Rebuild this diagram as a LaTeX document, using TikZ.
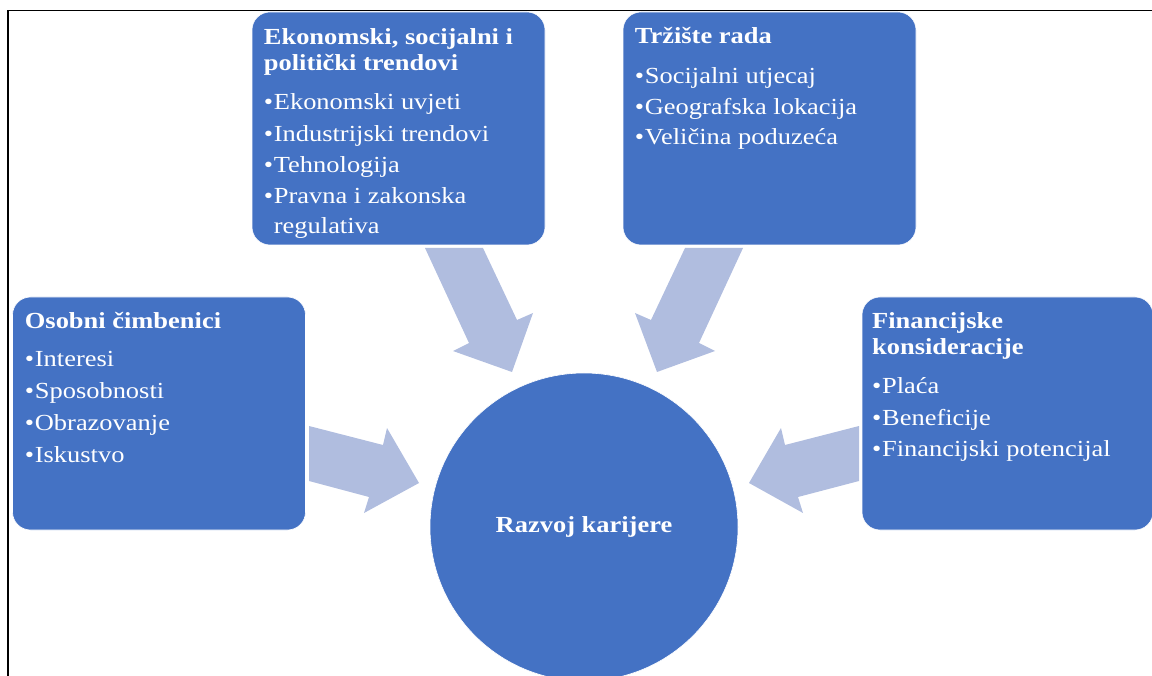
\documentclass[tikz,border=0pt]{standalone}
\usepackage{fontspec}
\setmainfont{Liberation Serif}[FakeStretch=1.15]
\definecolor{boxblue}{HTML}{4472C4}
\definecolor{arrowblue}{RGB}{176,189,223}
\newcommand\itm[1]{\hbox{\makebox[10pt][l]{\textbullet}#1}}
\newcommand\ttl[1]{\hbox{\bfseries #1}}
\newcommand\cont[1]{\hbox{\hspace{10pt}#1}}
\newcommand\gapttl{\baselineskip=31.3pt\vskip7.7pt}
\tikzset{
  box/.style={draw=white, line width=0.6pt, fill=boxblue, rounded corners=18pt,
    minimum width=293pt, minimum height=233pt, inner sep=0pt},
  txt/.style={anchor=base west, inner sep=0pt, text=white,
    font=\fontsize{23}{26}\selectfont},
  blockarrow/.style={fill=arrowblue},
}
\begin{document}
\begin{tikzpicture}[x=1pt, y=-1pt]
\useasboundingbox (0,0) rectangle (1152,676);
% frame
\draw[line width=1.5pt] (8.2,676) -- (8.2,10.5) -- (1152,10.5);

% boxes
\node[box] (eko) at (398.5,128.5) {};
\node[box] (trz) at (769.5,128.5) {};
\node[box] (oso) at (159,413.5) {};
\node[box, minimum width=291pt] (fin) at (1007.5,413.5) {};
\node[circle, fill=boxblue, draw=white, line width=0.6pt, minimum size=308pt, inner sep=0pt,
  text=white, font=\fontsize{23}{26}\selectfont\bfseries] (raz) at (584,527) {Razvoj karijere};

% texts
\node[txt] (ekoT) at (263.7,45) {\vtop{\baselineskip=26pt
  \ttl{Ekonomski, socijalni i}\ttl{politički trendovi}\gapttl
  \itm{Ekonomski uvjeti}\itm{Industrijski trendovi}\itm{Tehnologija}
  \itm{Pravna i zakonska}\baselineskip=30pt\cont{regulativa}}};
\node[txt] (trzT) at (634.7,44) {\vtop{\baselineskip=26pt
  \ttl{Tržište rada}\baselineskip=30.5pt\vskip9.5pt
  \itm{Socijalni utjecaj}\itm{Geografska lokacija}\itm{Veličina poduzeća}}};
\node[txt] (osoT) at (24.7,329) {\vtop{\baselineskip=26pt
  \ttl{Osobni čimbenici}\baselineskip=31.7pt\vskip6.3pt
  \itm{Interesi}\itm{Sposobnosti}\itm{Obrazovanje}\itm{Iskustvo}}};
\node[txt] (finT) at (872,329) {\vtop{\baselineskip=26pt
  \ttl{Financijske}\ttl{konsideracije}\gapttl
  \itm{Plaća}\itm{Beneficije}\itm{Financijski potencijal}}};

% block arrows
\fill[blockarrow] (425,248) -- (483,248) -- (517,320) -- (533,313) -- (512,372)
  -- (453,351) -- (469,343) -- cycle;
\fill[blockarrow] (743,248) -- (685,248) -- (651,320) -- (635,313) -- (657,372)
  -- (715,351) -- (699,343) -- cycle;
\fill[blockarrow] (309,426) -- (383,445) -- (387,428) -- (419,483) -- (364,513)
  -- (369,497) -- (309,481) -- cycle;
\fill[blockarrow] (859,426) -- (785,445) -- (781,428) -- (749,483) -- (803,513)
  -- (798,497) -- (859,481) -- cycle;
\end{tikzpicture}
\end{document}
